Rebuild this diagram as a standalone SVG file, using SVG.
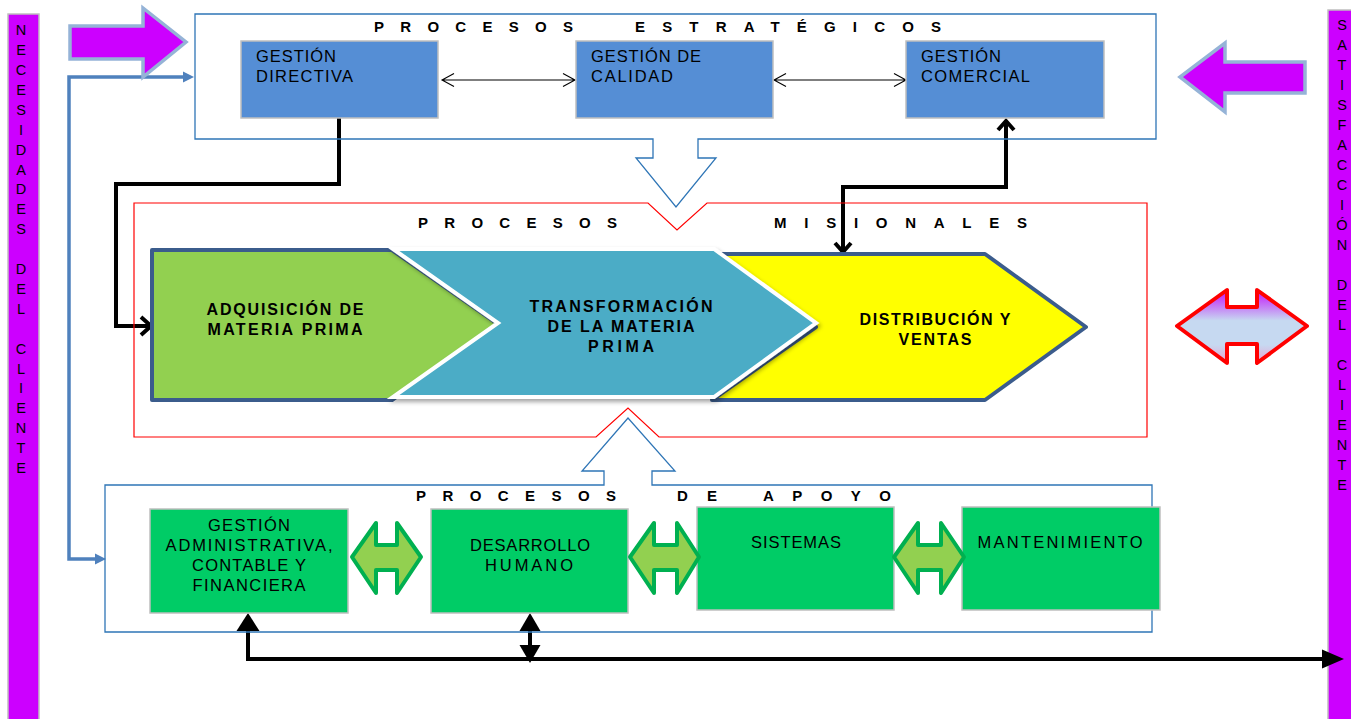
<svg xmlns="http://www.w3.org/2000/svg" width="1351" height="719" viewBox="0 0 1351 719">
<style>
.bar{fill:#CC00FF;stroke:#BFBFBF;stroke-width:1.5}
.vtxt{font-family:"Liberation Sans",Arial,sans-serif;font-size:14.5px;fill:#000;text-anchor:middle}
.big{fill:#CC00FF;stroke:#95B3D7;stroke-width:3.5;stroke-linejoin:miter}
.frameB{fill:none;stroke:#2E75B6;stroke-width:1.3}
.frameR{fill:none;stroke:#FF0000;stroke-width:1.2}
.sbox{fill:#558ED5;stroke:#BFBFBF;stroke-width:1.5}
.gbox{fill:#00CC66;stroke:#BFBFBF;stroke-width:1.5}
.t{font-family:"Liberation Sans",Arial,sans-serif;font-size:16.5px;fill:#000}
.tc{font-family:"Liberation Sans",Arial,sans-serif;font-size:16.5px;fill:#000;text-anchor:middle}
.tb{font-family:"Liberation Sans",Arial,sans-serif;font-size:16px;font-weight:bold;fill:#000;text-anchor:middle}
.title{font-family:"Liberation Sans",Arial,sans-serif;font-size:15px;font-weight:bold;fill:#000}
.garrow{fill:#92D050;stroke:#00B050;stroke-width:4;stroke-linejoin:round}
.k4{fill:none;stroke:#000;stroke-width:4;stroke-linejoin:miter}
.k1{fill:none;stroke:#000;stroke-width:1.1}
.kf{fill:#000}
.blue{fill:none;stroke:#4F81BD;stroke-width:3.5}
.bluef{fill:#4F81BD}
</style>
<defs>
<linearGradient id="rg" x1="0" y1="0" x2="0" y2="1">
<stop offset="0" stop-color="#C40FFA"/>
<stop offset="0.42" stop-color="#C6D9F1"/>
<stop offset="0.75" stop-color="#C6D9F1"/>
<stop offset="1" stop-color="#EBA0D0"/>
</linearGradient>
<filter id="sh" x="-10%" y="-10%" width="130%" height="130%">
<feDropShadow dx="2" dy="3" stdDeviation="2" flood-color="#000" flood-opacity="0.35"/>
</filter>
</defs>

<!-- side bars -->
<g id="necesidades">
<rect class="bar" x="8" y="14" width="31" height="710"/>
<text class="vtxt"><tspan x="21" y="35.2">N</tspan><tspan x="21" y="55.1">E</tspan><tspan x="21" y="75">C</tspan><tspan x="21" y="94.9">E</tspan><tspan x="21" y="114.8">S</tspan><tspan x="21" y="134.7">I</tspan><tspan x="21" y="154.6">D</tspan><tspan x="21" y="174.5">A</tspan><tspan x="21" y="194.4">D</tspan><tspan x="21" y="214.3">E</tspan><tspan x="21" y="234.2">S</tspan><tspan x="21" y="274">D</tspan><tspan x="21" y="293.9">E</tspan><tspan x="21" y="313.8">L</tspan><tspan x="21" y="353.6">C</tspan><tspan x="21" y="373.5">L</tspan><tspan x="21" y="393.4">I</tspan><tspan x="21" y="413.3">E</tspan><tspan x="21" y="433.2">N</tspan><tspan x="21" y="453.1">T</tspan><tspan x="21" y="473">E</tspan></text>
</g>
<g id="satisfaccion">
<rect class="bar" x="1328" y="10" width="30" height="714"/>
<text class="vtxt"><tspan x="1342" y="30.2">S</tspan><tspan x="1342" y="50.2">A</tspan><tspan x="1342" y="70.2">T</tspan><tspan x="1342" y="90.2">I</tspan><tspan x="1342" y="110.2">S</tspan><tspan x="1342" y="130.2">F</tspan><tspan x="1342" y="150.2">A</tspan><tspan x="1342" y="170.2">C</tspan><tspan x="1342" y="190.2">C</tspan><tspan x="1342" y="210.2">I</tspan><tspan x="1342" y="230.2">Ó</tspan><tspan x="1342" y="250.2">N</tspan><tspan x="1342" y="290.2">D</tspan><tspan x="1342" y="310.2">E</tspan><tspan x="1342" y="330.2">L</tspan><tspan x="1342" y="370.2">C</tspan><tspan x="1342" y="390.2">L</tspan><tspan x="1342" y="410.2">I</tspan><tspan x="1342" y="430.2">E</tspan><tspan x="1342" y="450.2">N</tspan><tspan x="1342" y="470.2">T</tspan><tspan x="1342" y="490.2">E</tspan></text>
</g>

<!-- connectors -->
<g id="connectors">
<path class="blue" d="M184,77 H69 V559 H96"/>
<polygon class="bluef" points="194,77 183,71.5 183,82.5"/>
<polygon class="bluef" points="106,559 95,553.5 95,564.5"/>
<path class="k1" d="M442,80 H575 M454,73.5 L442,80 L454,86.5 M563,73.5 L575,80 L563,86.5"/>
<path class="k1" d="M774,80 H906 M786,73.5 L774,80 L786,86.5 M894,73.5 L906,80 L894,86.5"/>
<path class="k4" d="M339,118 V184 H116 V326 H149"/>
<path class="k4" d="M141,317 L151,326 L141,335"/>
<path class="k4" d="M1006,121 V187 H843 V251"/>
<path class="k4" d="M998,130 L1006,121 L1014,130"/>
<path class="k4" d="M835,243 L843,252 L851,243"/>
<path class="k4" d="M248,628 V659 H1324"/>
<polygon class="kf" points="248,613 236.5,631 259.5,631"/>
<polygon class="kf" points="1344,659 1322,649.5 1322,668.5"/>
<path class="k4" d="M530,628 V648"/>
<polygon class="kf" points="530,613 519.5,631 540.5,631"/>
<polygon class="kf" points="530,663 519.5,645 540.5,645"/>
</g>

<!-- big magenta arrows -->
<g id="flecha-entrada">
<polygon class="big" points="70,26 143,26 143,8 186,42 143,77 143,59 70,59"/>
</g>
<g id="flecha-salida">
<polygon class="big" points="1305,62 1225,62 1225,43 1180,77 1225,112 1225,93 1305,93"/>
</g>
<g id="flecha-roja">
<polygon fill="url(#rg)" stroke="#FF0000" stroke-width="4" stroke-linejoin="round" points="1177,326 1227,290 1227,307 1257,307 1257,290 1307,326 1257,363 1257,344 1227,344 1227,363"/>
</g>

<!-- strategic processes -->
<g id="procesos-estrategicos">
<path class="frameB" d="M195,14 H1156 V139 H698 V158 H716 L676,207 L636,158 H653 V139 H195 Z"/>
<text class="title" x="374" y="32" textLength="199" lengthAdjust="spacing">PROCESOS</text>
<text class="title" x="635" y="32" textLength="306" lengthAdjust="spacing">ESTRATÉGICOS</text>
</g>
<g id="gestion-directiva">
<rect class="sbox" x="241" y="41" width="197" height="77"/>
<text class="t" x="256" y="62" textLength="80">GESTIÓN</text>
<text class="t" x="256" y="82" textLength="97">DIRECTIVA</text>
</g>
<g id="gestion-calidad">
<rect class="sbox" x="576" y="41" width="197" height="77"/>
<text class="t" x="591" y="62" textLength="110">GESTIÓN DE</text>
<text class="t" x="591" y="82" textLength="82">CALIDAD</text>
</g>
<g id="gestion-comercial">
<rect class="sbox" x="906" y="41" width="198" height="77"/>
<text class="t" x="921" y="62" textLength="80">GESTIÓN</text>
<text class="t" x="921" y="82" textLength="109">COMERCIAL</text>
</g>

<!-- mission processes -->
<g id="procesos-misionales">
<path class="frameR" d="M134,203 H648 L677,230 L707,203 H1147 V437 H659 L628,408 L596,437 H134 Z"/>
<text class="title" x="418" y="228" textLength="199" lengthAdjust="spacing">PROCESOS</text>
<text class="title" x="774" y="228" textLength="253" lengthAdjust="spacing">MISIONALES</text>
</g>
<g id="adquisicion">
<polygon fill="#92D050" stroke="#3B5C8C" stroke-width="4" stroke-linejoin="round" points="152,250 392,250 498,324 392,400 152,400"/>
<text class="tb" x="285" y="315" textLength="157">ADQUISICIÓN DE</text>
<text class="tb" x="285" y="335" textLength="155">MATERIA PRIMA</text>
</g>
<g id="distribucion">
<polygon fill="#FFFF00" stroke="#3B5C8C" stroke-width="4" stroke-linejoin="round" points="714,254 985,254 1086,327 985,400 712,400 816,327"/>
<text class="tb" x="935" y="325" textLength="151">DISTRIBUCIÓN Y</text>
<text class="tb" x="935" y="345" textLength="73">VENTAS</text>
</g>
<g id="transformacion">
<polygon fill="#4BACC6" stroke="#FFFFFF" stroke-width="4" stroke-linejoin="miter" filter="url(#sh)" points="393,249 714,249 816,323 714,397 393,397 498,323"/>
<text class="tb" x="621" y="312" textLength="183">TRANSFORMACIÓN</text>
<text class="tb" x="621" y="332" textLength="147">DE LA MATERIA</text>
<text class="tb" x="621" y="352" textLength="66">PRIMA</text>
</g>

<!-- support processes -->
<g id="procesos-apoyo">
<path class="frameB" d="M105,485 H604 V471 H582 L628,418 L675,471 H652 V485 H1152 V632 H105 Z"/>
<text class="title" x="416" y="501" textLength="200" lengthAdjust="spacing">PROCESOS</text>
<text class="title" x="677" y="501" textLength="40" lengthAdjust="spacing">DE</text>
<text class="title" x="763" y="501" textLength="128" lengthAdjust="spacing">APOYO</text>
</g>
<g id="gestion-administrativa">
<rect class="gbox" x="150" y="509" width="198" height="104"/>
<text class="tc" x="249" y="531" textLength="82">GESTIÓN</text>
<text class="tc" x="249" y="551" textLength="167">ADMINISTRATIVA,</text>
<text class="tc" x="249" y="571" textLength="114">CONTABLE Y</text>
<text class="tc" x="249" y="591" textLength="113">FINANCIERA</text>
</g>
<g id="desarrollo-humano">
<rect class="gbox" x="431" y="509" width="197" height="104"/>
<text class="tc" x="530" y="551" textLength="120">DESARROLLO</text>
<text class="tc" x="529" y="571" textLength="88">HUMANO</text>
</g>
<g id="sistemas">
<rect class="gbox" x="697" y="507" width="197" height="103"/>
<text class="tc" x="796" y="548" textLength="90">SISTEMAS</text>
</g>
<g id="mantenimiento">
<rect class="gbox" x="962" y="507" width="198" height="103"/>
<text class="tc" x="1060" y="548" textLength="165">MANTENIMIENTO</text>
</g>
<g id="flechas-apoyo">
<polygon class="garrow" points="352,557 376,523 376,545 397,545 397,523 421,557 397,593 397,570 376,570 376,593"/>
<polygon class="garrow" points="630,557 654,523 654,545 677,545 677,523 699,557 677,593 677,570 654,570 654,593"/>
<polygon class="garrow" points="894,557 918,523 918,545 941,545 941,523 964,557 941,593 941,570 918,570 918,593"/>
</g>
</svg>
